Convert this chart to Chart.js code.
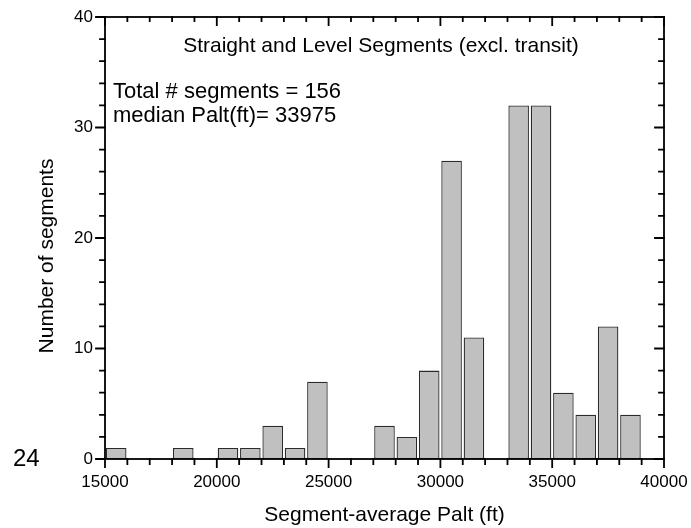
<!DOCTYPE html>
<html>
<head>
<meta charset="utf-8">
<script src="https://cdn.jsdelivr.net/npm/chart.js@4/dist/chart.umd.min.js"></script>
<style>
  html, body { margin: 0; padding: 0; background: #fff; }
  canvas { display: block; }
</style>
</head>
<body>
<canvas id="c" width="691" height="528"></canvas>
<script>
// Histogram of segment-average pressure altitude, 1000 ft bins (lower bin edges)
const binStarts = [15000, 18000, 20000, 21000, 22000, 23000, 24000,
                   27000, 28000, 29000, 30000, 31000,
                   33000, 34000, 35000, 36000, 37000, 38000];
const counts    = [1, 1, 1, 1, 3, 1, 7,
                   3, 2, 8, 27, 11,
                   32, 32, 6, 4, 12, 4];
const binWidth = 1000;

// Axis ranges and tick spacing
const xRange = [15000, 40000];
const xMajorStep = 5000;
const xMinorStep = 1000;
const yRange = [0, 40];
const yMajorStep = 10;
const yMinorStep = 2;

// Text
const titleText = 'Straight and Level Segments (excl. transit)';
const noteLines = ['Total # segments = 156', 'median Palt(ft)= 33975'];
const xTitle = 'Segment-average Palt (ft)';
const yTitle = 'Number of segments';
const cornerLabel = '24';

const FONT = '"Liberation Sans", Arial, Helvetica, sans-serif';

const points = binStarts.map((s, i) => ({ x: s + binWidth / 2, y: counts[i] }));

// Box frame with Origin-style major/minor ticks
const framePlugin = {
  id: 'frame',
  afterDatasetsDraw(chart) {
    const { ctx, chartArea: a, scales: { x, y } } = chart;
    ctx.save();
    ctx.strokeStyle = '#000';
    ctx.lineWidth = 1.8;
    ctx.lineCap = 'square';
    ctx.strokeRect(a.left, a.top, a.right - a.left, a.bottom - a.top);
    ctx.beginPath();
    for (let v = xRange[0]; v <= xRange[1]; v += xMinorStep) {
      const px = x.getPixelForValue(v);
      const major = v % xMajorStep === 0;
      ctx.moveTo(px, a.bottom); ctx.lineTo(px, a.bottom + (major ? 8 : 5));
      ctx.moveTo(px, a.top); ctx.lineTo(px, a.top + (major ? 8 : 4));
    }
    for (let v = yRange[0]; v <= yRange[1]; v += yMinorStep) {
      const py = y.getPixelForValue(v);
      const major = v % yMajorStep === 0;
      ctx.moveTo(a.left, py); ctx.lineTo(a.left - (major ? 9 : 5), py);
      ctx.moveTo(a.right, py); ctx.lineTo(a.right - (major ? 9 : 5), py);
    }
    ctx.stroke();
    ctx.restore();
  }
};

// Title, annotation and axis titles
const textPlugin = {
  id: 'texts',
  afterDraw(chart) {
    const { ctx, chartArea: a } = chart;
    ctx.save();
    ctx.fillStyle = '#000';
    ctx.font = '21px ' + FONT;
    ctx.textAlign = 'center';
    ctx.textBaseline = 'alphabetic';
    ctx.fillText(titleText, 381, 52);

    ctx.font = '22px ' + FONT;
    ctx.textAlign = 'left';
    ctx.fillText(noteLines[0], 113, 98);
    ctx.fillText(noteLines[1], 113, 122);

    ctx.font = '21px ' + FONT;
    ctx.textAlign = 'center';
    ctx.fillText(xTitle, (a.left + a.right) / 2, 521);

    ctx.save();
    ctx.translate(53, 256);
    ctx.rotate(-Math.PI / 2);
    ctx.fillText(yTitle, 0, 0);
    ctx.restore();

    ctx.font = '24px ' + FONT;
    ctx.textAlign = 'left';
    ctx.fillText(cornerLabel, 13, 466);
    ctx.restore();
  }
};

new Chart(document.getElementById('c'), {
  type: 'bar',
  data: {
    datasets: [{
      data: points,
      backgroundColor: '#c0c0c0',
      borderColor: '#2b2b2b',
      borderWidth: 1.3,
      borderSkipped: false,
      categoryPercentage: 1.0,
      barPercentage: 0.92
    }]
  },
  options: {
    responsive: false,
    animation: false,
    devicePixelRatio: 1,
    layout: { padding: { top: 17, right: 27, left: 0, bottom: 0 } },
    plugins: { legend: { display: false }, tooltip: { enabled: false }, title: { display: false } },
    scales: {
      x: {
        type: 'linear',
        min: xRange[0],
        max: xRange[1],
        offset: false,
        border: { display: false },
        grid: { display: false, drawTicks: false },
        ticks: {
          stepSize: xMajorStep,
          padding: 13,
          color: '#000',
          font: { family: FONT, size: 17 },
          maxRotation: 0,
          callback: v => String(v)
        },
        afterFit: s => { s.height = 69; s.paddingLeft = 0; s.paddingRight = 0; }
      },
      y: {
        min: yRange[0],
        max: yRange[1],
        border: { display: false },
        grid: { display: false, drawTicks: false },
        ticks: {
          stepSize: yMajorStep,
          padding: 12,
          color: '#000',
          font: { family: FONT, size: 17 },
          callback: v => String(v)
        },
        afterFit: s => { s.width = 105; s.paddingTop = 0; s.paddingBottom = 0; }
      }
    }
  },
  plugins: [framePlugin, textPlugin]
});
</script>
</body>
</html>
